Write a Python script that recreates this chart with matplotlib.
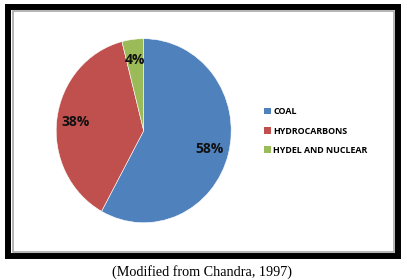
import matplotlib
matplotlib.use("Agg")
import matplotlib.pyplot as plt
from matplotlib.patches import Rectangle, Patch

# data
labels = ["COAL", "HYDROCARBONS", "HYDEL AND NUCLEAR"]
shares = [58, 38, 4]
colors = ["#4F81BD", "#C0504D", "#9BBB59"]
caption = "(Modified from Chandra, 1997)"

W, H = 407, 280
fig = plt.figure(figsize=(W / 100, H / 100), dpi=100)

def fx(px):
    return px / W

def fy(py):
    return 1 - py / H

# outer black frame and inner grey frame
fig.patches.append(Rectangle((fx(8), fy(256)), fx(398) - fx(8), fy(7) - fy(256),
                             transform=fig.transFigure, fill=False,
                             edgecolor="black", linewidth=4.3))
fig.patches.append(Rectangle((fx(12.5), fy(251.5)), fx(393.5) - fx(12.5), fy(11.5) - fy(251.5),
                             transform=fig.transFigure, fill=False,
                             edgecolor="#a8a8a8", linewidth=1.2))

# pie (slightly elliptical like the original)
ax = fig.add_axes([fx(56.2), fy(222.7), fx(231.2) - fx(56.2), fy(38.7) - fy(222.7)])
wedges, texts, autotexts = ax.pie(
    shares, colors=colors, startangle=90, counterclock=False,
    autopct="%d%%", pctdistance=0.78,
    wedgeprops=dict(edgecolor="white", linewidth=0.4),
    textprops=dict(fontsize=10, fontweight="bold", color="#111111", family="Open Sans"))
ax.set_aspect("auto")
ax.set_xlim(-1, 1)
ax.set_ylim(-1, 1)
ax.axis("off")

handles = [Patch(facecolor=c, edgecolor="none") for c in colors]
fig.legend(handles, labels, loc="center left", bbox_to_anchor=(fx(260), fy(131)),
           frameon=False, handlelength=0.75, handleheight=0.75, handletextpad=0.25,
           labelspacing=1.15, borderpad=0,
           prop=dict(family="Open Sans", weight="bold", size=6.4))

fig.text(fx(202), fy(272), caption, ha="center", va="center",
         family="Liberation Serif", fontsize=10.2, color="black")

fig.savefig("out.png", dpi=100)
